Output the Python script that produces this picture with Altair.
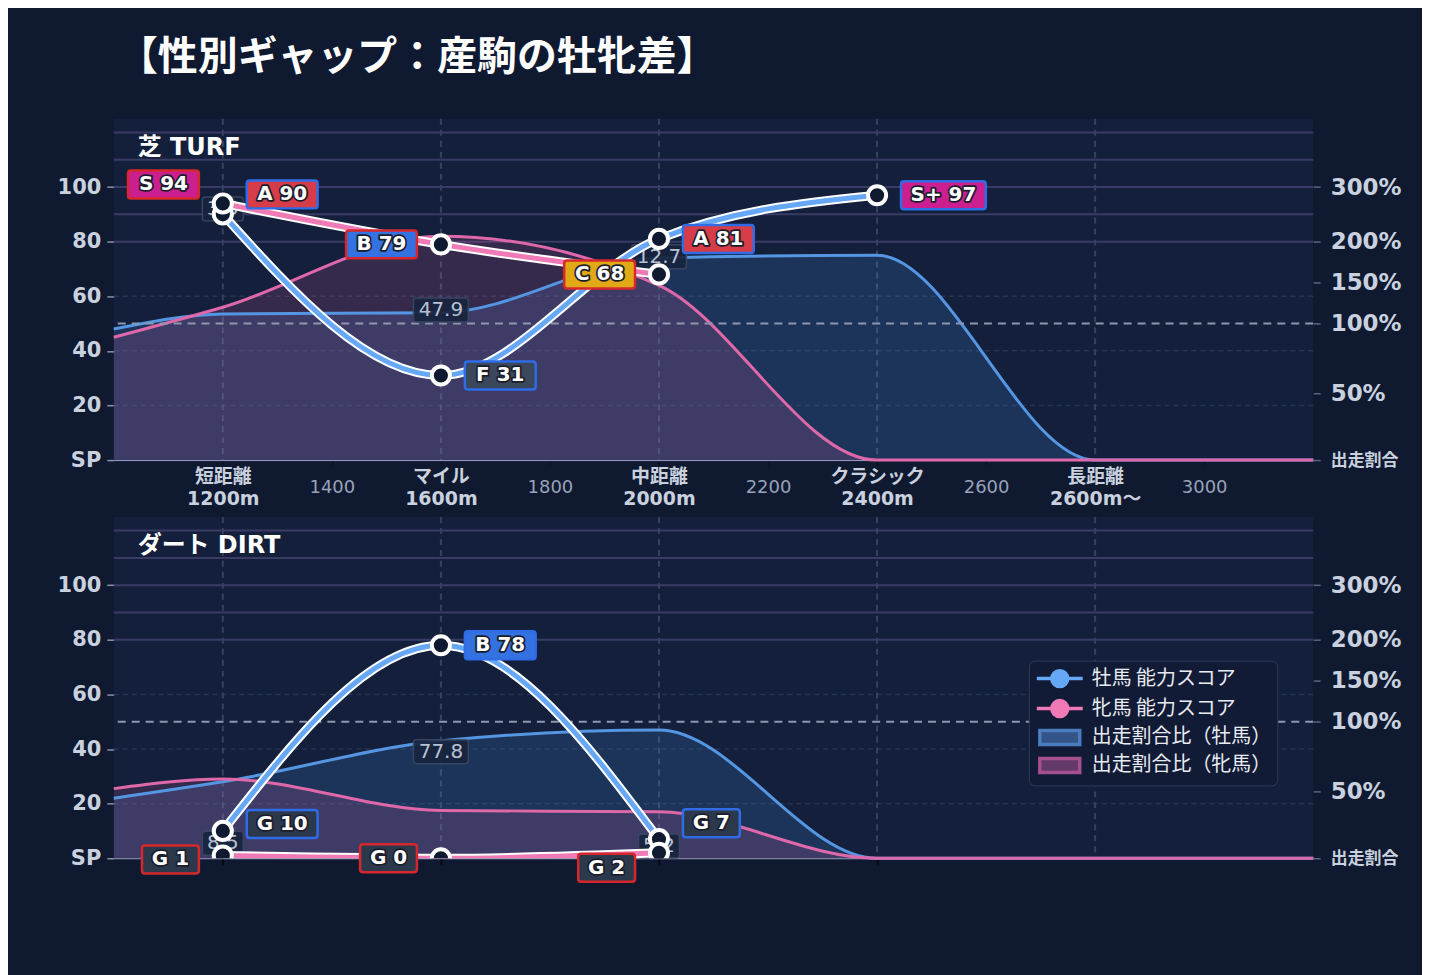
import altair as alt
import pandas as pd

# ---- values ----
distances = [1200, 1600, 2000, 2400]

turf_male_score = [90, 31, 81, 97]
turf_male_grade = ["A", "F", "A", "S+"]
turf_female_score = [94, 79, 68]
turf_female_grade = ["S", "B", "C"]
turf_gap = ["3.5", "47.9", "12.7"]

dirt_male_score = [10, 78, 7]
dirt_male_grade = ["G", "B", "G"]
dirt_female_score = [1, 0, 2]
dirt_female_grade = ["G", "G", "G"]
dirt_gap = ["8.5", "77.8", "5.2"]

# entry share curves, already on the score scale (right axis)
share_dist = [1000, 1200, 1600, 2000, 2400, 2800, 3200]
turf_male_share = [48, 53.5, 54, 74, 75, 0, 0]
turf_female_share = [45, 56, 82, 64, 0, 0, 0]
dirt_male_share = [22, 28, 43, 47, 0, 0, 0]
dirt_female_share = [25.5, 29, 17.5, 17, 0, 0, 0]

x_ticks = [1200, 1400, 1600, 1800, 2000, 2200, 2400, 2600, 2800, 3000]
zone_ticks = [1200, 1600, 2000, 2400, 2800]
zone_names = ["短距離", "マイル", "中距離", "クラシック", "長距離"]
zone_dist = ["1200m", "1600m", "2000m", "2400m", "2600m〜"]

score_ticks = [0, 20, 40, 60, 80, 100]
grade_rules = [80, 90, 100, 110, 120]
minor_rules = [20, 40, 60]
share_tick_pos = [0, 24.5, 50, 65, 80, 100]
share_tick_text = ["出走割合", "50%", "100%", "150%", "200%", "300%"]

legend_names = ["牡馬 能力スコア", "牝馬 能力スコア", "出走割合比（牡馬）", "出走割合比（牝馬）"]

# ---- styles ----
BG = "#0f1930"
PANEL = "#131f3b"
MALE = "#66a8f6"
FEMALE = "#f07ab6"
MALE_SHARE = "#5596e3"
FEMALE_SHARE = "#de68aa"
GRADE_FILL = {"S+": "#cc1f8f", "S": "#cc1f8f", "A": "#d63d48", "B": "#3372e0",
              "C": "#e0a915", "F": "#3b475b", "G": "#2c394d"}
BORDER_MALE = "#2f6ce6"
BORDER_FEMALE = "#d6282c"
NUM_FONT = "DejaVu Sans, Noto Sans CJK JP"
JP_FONT = "Noto Sans CJK JP"
AXIS_TEXT = "#c9d1de"

XS = alt.Scale(domain=[1000, 3200], nice=False, zero=False)
YS = alt.Scale(domain=[0, 125], nice=False, zero=False)
PLOT_W, PLOT_H = 1202, 342


def box_path(x0, x1, y0, y1, r=3):
    # custom symbol path, 1 unit = 50px when size=10000
    s = 50.0
    f = lambda v: f"{v / s:.3f}"
    return (f"M{f(x0 + r)},{f(y0)}H{f(x1 - r)}Q{f(x1)},{f(y0)} {f(x1)},{f(y0 + r)}"
            f"V{f(y1 - r)}Q{f(x1)},{f(y1)} {f(x1 - r)},{f(y1)}H{f(x0 + r)}"
            f"Q{f(x0)},{f(y1)} {f(x0)},{f(y1 - r)}V{f(y0 + r)}Q{f(x0)},{f(y0)} {f(x0 + r)},{f(y0)}Z")


zone_test = "indexof([" + ",".join(str(v) for v in zone_ticks) + "], datum.value) >= 0"
x_label_expr = "".join(f"datum.value == {v} ? ['{n}', '{m}'] : "
                       for v, n, m in zip(zone_ticks, zone_names, zone_dist)) + "format(datum.value, 'd')"
share_label_expr = "".join(f"datum.value == {v} ? '{t}' : "
                           for v, t in zip(share_tick_pos, share_tick_text)) + "''"

x_axis_full = alt.Axis(
    values=x_ticks, labelExpr=x_label_expr, labelBaseline="middle",
    labelPadding={"condition": {"test": zone_test, "value": 11}, "value": 22},
    labelLineHeight=23, labelFont=NUM_FONT,
    labelFontSize={"condition": {"test": zone_test, "value": 19}, "value": 18},
    labelFontWeight={"condition": {"test": zone_test, "value": "bold"}, "value": "normal"},
    labelColor={"condition": {"test": zone_test, "value": AXIS_TEXT}, "value": "#98a3b8"},
    tickColor="#0a1020", tickSize=5, domainColor="#9da2c8", grid=False,
    labelOverlap=False, labelBound=False, labelFlush=False, title=None)

x_axis_ticks = alt.Axis(values=zone_ticks[:4], labels=False, tickColor="#05080f", tickSize=6,
                        tickWidth=2, domainColor="#9da2c8", grid=False, title=None)

y_axis = alt.Axis(values=score_ticks, labelExpr="datum.value == 0 ? 'SP' : format(datum.value, 'd')",
                  labelFont=NUM_FONT, labelFontSize=21, labelFontWeight="bold", labelColor=AXIS_TEXT,
                  tickColor="#8a93a8", tickSize=7, tickWidth=1.5, labelPadding=6,
                  domain=False, grid=False, title=None)

r_axis = alt.Axis(orient="right", values=share_tick_pos, labelExpr=share_label_expr,
                  labelFont=NUM_FONT, labelFontWeight="bold", labelColor=AXIS_TEXT,
                  labelFontSize={"condition": {"test": "datum.value == 0", "value": 17}, "value": 23},
                  tickColor="#5b6480", tickSize=7, tickWidth=1.5, labelPadding=10,
                  domain=False, grid=False, title=None)

legend_def = alt.Legend(
    title=None, orient="none", legendX=917, legendY=543, fillColor="#121b35",
    strokeColor="#2d3a55", cornerRadius=6, padding=6, rowPadding=0,
    symbolSize=400, symbolStrokeWidth=3.5, labelOffset=33, labelFont=JP_FONT,
    labelFontSize=20, labelColor="#e8ecf2", labelLimit=300)

line_sym = "M-1,0H3.6M0.5,0A0.8,0.8 0 1,0 2.1,0A0.8,0.8 0 1,0 0.5,0Z"
rect_sym = "M-0.7,-0.7H3.3V0.7H-0.7Z"


def panel(title, male_score, male_grade, female_score, female_grade, gap,
          male_share, female_share, x_axis, male_nudge, female_nudge, with_legend):
    # every layer carries the same axis so the shared axes merge cleanly
    def X(field):
        return alt.X(f"{field}:Q", scale=XS, axis=x_axis)

    def Y(field):
        return alt.Y(f"{field}:Q", scale=YS, axis=y_axis)

    def grade_label(d, s, text, border, side, nudge):
        w = 14 * len(text) + 15
        h = 28
        if side == "right":
            x0, x1 = 24, 24 + w
        else:
            x0, x1 = -24 - w, -24
        row = alt.Chart(pd.DataFrame({"d": [d], "s": [s], "t": [text]})).encode(x=X("d"), y=Y("s"))
        grade = text.split(" ")[0]
        box = row.mark_point(shape=box_path(x0, x1, nudge - h / 2, nudge + h / 2), size=10000,
                             filled=True, fill=GRADE_FILL[grade], stroke=border,
                             strokeWidth=2.5, opacity=1)
        cx = (x0 + x1) / 2
        halo = row.mark_text(dx=cx, dy=nudge, align="center", baseline="middle", font="DejaVu Sans",
                             fontSize=20, fontWeight="bold", fill="#1c1d2c", stroke="#1c1d2c",
                             strokeWidth=3.5, strokeJoin="round").encode(text="t:N")
        txt = row.mark_text(dx=cx, dy=nudge, align="center", baseline="middle", font="DejaVu Sans",
                            fontSize=20, fontWeight="bold", fill="white").encode(text="t:N")
        return [box, halo, txt]

    def gap_label(d, s, text):
        w = 14 * len(text) - 1
        row = alt.Chart(pd.DataFrame({"d": [d], "s": [s], "t": [text]})).encode(x=X("d"), y=Y("s"))
        box = row.mark_point(shape=box_path(-w / 2, w / 2, -12, 12), size=10000, filled=True,
                             fill="#18243e", stroke="#3a4861", strokeWidth=1.5, opacity=0.92)
        txt = row.mark_text(align="center", baseline="middle", font="DejaVu Sans", fontSize=20,
                            fill="#b8c2d2").encode(text="t:N")
        return [box, txt]

    layers = []
    layers.append(alt.Chart(pd.DataFrame({"v": grade_rules}))
                  .mark_rule(color="#3a3c66", strokeWidth=2).encode(y=Y("v")))
    layers.append(alt.Chart(pd.DataFrame({"v": minor_rules}))
                  .mark_rule(color="#263551", strokeDash=[5, 4], strokeWidth=1.5)
                  .encode(y=Y("v")))
    layers.append(alt.Chart(pd.DataFrame({"d": zone_ticks}))
                  .mark_rule(color="#34435f", strokeDash=[6, 5], strokeWidth=2)
                  .encode(x=X("d")))

    share = pd.DataFrame({"d": share_dist, "m": male_share, "f": female_share})
    sc = alt.Chart(share)
    layers.append(sc.mark_area(interpolate="monotone", color="#4a8fe2", opacity=0.19)
                  .encode(x=X("d"), y=Y("m")))
    layers.append(sc.mark_area(interpolate="monotone", color="#ec66a6", opacity=0.16)
                  .encode(x=X("d"), y=Y("f")))
    layers.append(sc.mark_line(interpolate="monotone", color=MALE_SHARE, strokeWidth=3)
                  .encode(x=X("d"), y=Y("m")))
    layers.append(sc.mark_line(interpolate="monotone", color=FEMALE_SHARE, strokeWidth=3)
                  .encode(x=X("d"), y=Y("f")))

    layers.append(alt.Chart(pd.DataFrame({"v": [50]}))
                  .mark_rule(color="#8e97ad", strokeDash=[8, 6], strokeWidth=2)
                  .encode(y=Y("v")))

    for d, m, f, g in zip(distances, male_score, female_score, gap):
        layers += gap_label(d, (m + f) / 2, g)

    male = pd.DataFrame({"d": distances[:len(male_score)], "s": male_score})
    female = pd.DataFrame({"d": distances[:len(female_score)], "s": female_score})
    for df, col in [(female, FEMALE), (male, MALE)]:
        c = alt.Chart(df).encode(x=X("d"), y=Y("s"))
        layers.append(c.mark_line(interpolate="monotone", color="white", strokeWidth=9, clip=True))
        layers.append(c.mark_line(interpolate="monotone", color=col, strokeWidth=5, clip=True))
    for df in [male, female]:
        layers.append(alt.Chart(df).mark_point(shape="circle", filled=True, fill=BG, stroke="white",
                                               strokeWidth=4, size=330, opacity=1, clip=True)
                      .encode(x=X("d"), y=Y("s")))

    for d, s, g, n in zip(distances, male_score, male_grade, male_nudge):
        layers += grade_label(d, s, f"{g} {s}", BORDER_MALE, "right", n)
    for d, s, g, n in zip(distances, female_score, female_grade, female_nudge):
        layers += grade_label(d, s, f"{g} {s}", BORDER_FEMALE, "left", n)

    layers.append(alt.Chart(pd.DataFrame({"t": [title]}))
                  .mark_text(align="left", baseline="middle", font=NUM_FONT, fontSize=24,
                             fontWeight="bold", color="white")
                  .encode(x=alt.value(24), y=alt.value(29), text="t:N"))

    if with_legend:
        leg = pd.DataFrame({"series": legend_names, "d": [1000] * 4, "s": [0] * 4})
        layers.append(
            alt.Chart(leg).transform_filter("false")
            .mark_point(filled=True, opacity=1, size=400, strokeWidth=3.5)
            .encode(
                x=X("d"), y=Y("s"),
                fill=alt.Fill("series:N", legend=legend_def, scale=alt.Scale(
                    domain=legend_names, range=[MALE, FEMALE, "#345487", "#643a68"])),
                stroke=alt.Stroke("series:N", legend=legend_def, scale=alt.Scale(
                    domain=legend_names, range=[MALE, FEMALE, "#4a7cc0", "#a4508e"])),
                shape=alt.Shape("series:N", legend=legend_def, scale=alt.Scale(
                    domain=legend_names, range=[line_sym, line_sym, rect_sym, rect_sym])),
            ))

    main = alt.layer(*layers)
    right = (alt.Chart(pd.DataFrame({"v": [50]})).mark_rule(opacity=0)
             .encode(y=alt.Y("v:Q", scale=YS, axis=r_axis)))
    return alt.layer(main, right).resolve_scale(y="independent").properties(
        width=PLOT_W, height=PLOT_H)


turf = panel("芝 TURF", turf_male_score, turf_male_grade, turf_female_score, turf_female_grade,
             turf_gap, turf_male_share, turf_female_share, x_axis_full,
             [-20, 0, 0, 0], [-19, 0, 0], False)
dirt = panel("ダート DIRT", dirt_male_score, dirt_male_grade, dirt_female_score, dirt_female_grade,
             dirt_gap, dirt_male_share, dirt_female_share, x_axis_ticks,
             [-7, 0, -16], [4, 0, 15], True)

chart = alt.vconcat(turf, dirt, spacing=7).properties(
    title=alt.TitleParams("【性別ギャップ：産駒の牡牝差】", anchor="start", font=JP_FONT,
                          fontSize=40, fontWeight="bold", color="white", offset=40, dx=61),
    padding={"left": 49, "top": 29, "right": 20, "bottom": 100},
    background=BG,
).configure_view(fill=PANEL, stroke=None)

chart.save("out.html", embed_options={"renderer": "svg", "actions": False})
